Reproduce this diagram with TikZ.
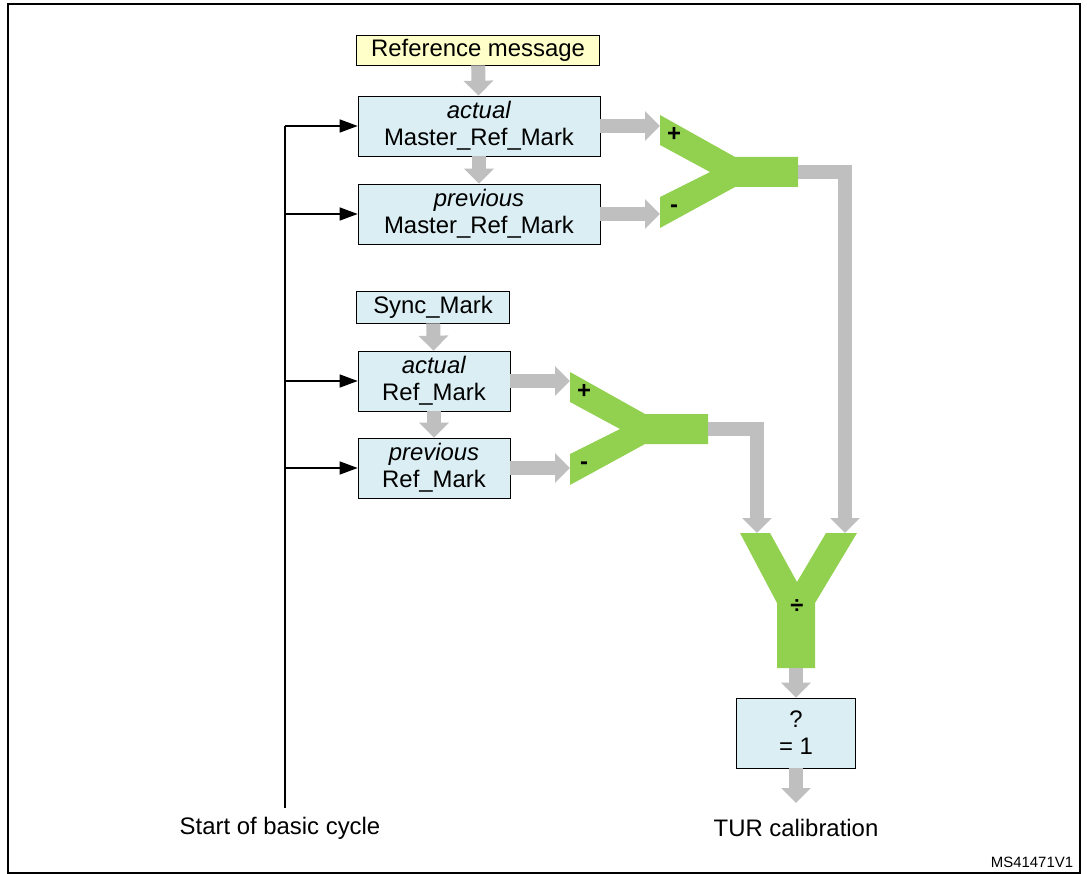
\documentclass[tikz,border=0pt]{standalone}
\usepackage{fontspec}
\setmainfont{Liberation Sans}
\usetikzlibrary{positioning,arrows.meta}
\definecolor{boxblue}{HTML}{DAEEF3}
\definecolor{boxyellow}{HTML}{FFFFC9}
\definecolor{ygreen}{HTML}{92D050}
\definecolor{pipegray}{HTML}{BFBFBF}
\begin{document}
\begin{tikzpicture}[x=0.02cm, y=-0.02cm,
  every node/.style={font=\fontsize{13.6}{15.5}\selectfont},
  box/.style={draw, fill=boxblue, align=center, inner sep=0pt},
  pipe/.style={draw=pipegray, line width=0.28cm, -{Triangle[length=0.3cm,width=0.58cm]}},
  tick/.style={-{Triangle[length=0.36cm,width=0.26cm]}, thick}]
  %----- frame -----
  \draw[thick] (8,4) rectangle (1080,873);
  \useasboundingbox (0,0) rectangle (1087,874);

  %----- boxes -----
  \node[box, fill=boxyellow, minimum width=4.86cm, minimum height=0.6cm] (ref) at (478,50) {Reference message};
  \node[box, minimum width=4.84cm, minimum height=1.2cm] (amrm) at (479,126) {\textit{actual}\\Master\_Ref\_Mark};
  \node[box, minimum width=4.84cm, minimum height=1.2cm] (pmrm) at (479,214) {\textit{previous}\\Master\_Ref\_Mark};
  \node[box, minimum width=3.06cm, minimum height=0.64cm] (sync) at (433,307) {Sync\_Mark};
  \node[box, minimum width=3.04cm, minimum height=1.2cm] (arm) at (434,381) {\textit{actual}\\Ref\_Mark};
  \node[box, minimum width=3.04cm, minimum height=1.2cm] (prm) at (434,468) {\textit{previous}\\Ref\_Mark};
  \node[box, minimum width=2.38cm, minimum height=1.4cm] (unit) at (796,733) {?\\= 1};

  %----- Y shapes -----
  \fill[ygreen] (660,115) -- (735,157) -- (798,157) -- (798,187) -- (735,187) -- (660,228)
    -- (660,197) -- (710,172) -- (660,145) -- cycle;
  \fill[ygreen] (570,372) -- (645,414) -- (708,414) -- (708,444) -- (645,444) -- (570,485)
    -- (570,454) -- (620,429) -- (570,402) -- cycle;
  \fill[ygreen] (740,533) -- (770,533) -- (797,582) -- (826,533) -- (857,533) -- (815,603)
    -- (815,668) -- (777,668) -- (777,603) -- cycle;
  \node at (674,134) {\textbf{+}};
  \node at (674,209) {\textbf{-}};
  \node at (584,391) {\textbf{+}};
  \node at (584,466) {\textbf{-}};
  \node at (797,607) {\textbf{÷}};
  \coordinate (y1a) at (660,126);
  \coordinate (y1b) at (660,214);
  \coordinate (y2a) at (570,381);
  \coordinate (y2b) at (570,468);
  \coordinate (y1out) at (798,172);
  \coordinate (y2out) at (708,429);
  \coordinate (y3a) at (757,533);
  \coordinate (y3b) at (845,533);
  \coordinate (y3out) at (796,668);

  %----- gray arrows -----
  \draw[pipe] (ref) -- (amrm);
  \draw[pipe] (amrm) -- (pmrm);
  \draw[pipe] (sync) -- (arm);
  \draw[pipe] (arm) -- (prm);
  \draw[pipe] (amrm.east) -- (y1a);
  \draw[pipe] (pmrm.east) -- (y1b);
  \draw[pipe] (arm.east) -- (y2a);
  \draw[pipe] (prm.east) -- (y2b);
  \draw[pipe] (y1out) -| (y3b);
  \draw[pipe] (y2out) -| (y3a);
  \draw[pipe] (y3out) -- (unit);
  \coordinate (tur) at (796,803);
  \draw[pipe] (unit) -- (tur);

  %----- basic cycle -----
  \coordinate (start) at (285,808);
  \draw[thick] (start) -- (285,126);
  \foreach \b in {amrm,pmrm,arm,prm}
    \draw[tick] (285,0 |- \b.west) -- (\b.west);

  %----- labels -----
  \node (startlbl) at (280,828) {Start of basic cycle};
  \node (turlbl) at (796,828) {TUR calibration};
  \node[font=\fontsize{8.5}{10}\selectfont] (code) at (1032,862) {MS41471V1};
\end{tikzpicture}
\end{document}
